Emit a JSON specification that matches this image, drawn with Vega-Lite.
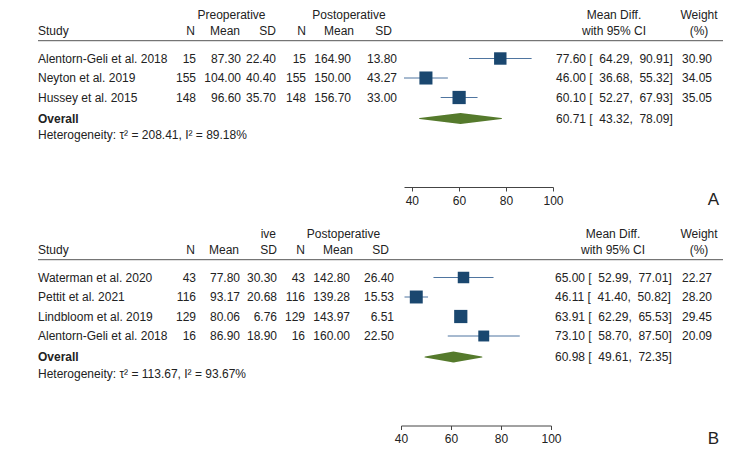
{
"$schema": "https://vega.github.io/schema/vega-lite/v6.json",
"background": "white",
"padding": {"left": 37, "top": 0, "right": 0, "bottom": 0},
"config": {"view": {"stroke": null}, "text": {"font": "Liberation Sans", "fontSize": 12, "color": "#222"}},
"datasets": {
"A": [
{"k":"Alentorn-Geli et al. 2018","n1":15,"m1":87.30,"sd1":22.40,"n2":15,"m2":164.90,"sd2":13.80,"md":77.60,"lo":64.29,"hi":90.91,"w":30.90,"ci":"77.60 [\u00a0 64.29,\u00a0 90.91]"},
{"k":"Neyton et al. 2019","n1":155,"m1":104.00,"sd1":40.40,"n2":155,"m2":150.00,"sd2":43.27,"md":46.00,"lo":36.68,"hi":55.32,"w":34.05,"ci":"46.00 [\u00a0 36.68,\u00a0 55.32]"},
{"k":"Hussey et al. 2015","n1":148,"m1":96.60,"sd1":35.70,"n2":148,"m2":156.70,"sd2":33.00,"md":60.10,"lo":52.27,"hi":67.93,"w":35.05,"ci":"60.10 [\u00a0 52.27,\u00a0 67.93]"}
],
"Aov": [{"k":"Overall","md":60.71,"lo":43.32,"hi":78.09,"ci":"60.71 [\u00a0 43.32,\u00a0 78.09]"}],
"B": [
{"k":"Waterman et al. 2020","n1":43,"m1":77.80,"sd1":30.30,"n2":43,"m2":142.80,"sd2":26.40,"md":65.00,"lo":52.99,"hi":77.01,"w":22.27,"ci":"65.00 [\u00a0 52.99,\u00a0 77.01]"},
{"k":"Pettit et al. 2021","n1":116,"m1":93.17,"sd1":20.68,"n2":116,"m2":139.28,"sd2":15.53,"md":46.11,"lo":41.40,"hi":50.82,"w":28.20,"ci":"46.11 [\u00a0 41.40,\u00a0 50.82]"},
{"k":"Lindbloom et al. 2019","n1":129,"m1":80.06,"sd1":6.76,"n2":129,"m2":143.97,"sd2":6.51,"md":63.91,"lo":62.29,"hi":65.53,"w":29.45,"ci":"63.91 [\u00a0 62.29,\u00a0 65.53]"},
{"k":"Alentorn-Geli et al. 2018","n1":16,"m1":86.90,"sd1":18.90,"n2":16,"m2":160.00,"sd2":22.50,"md":73.10,"lo":58.70,"hi":87.50,"w":20.09,"ci":"73.10 [\u00a0 58.70,\u00a0 87.50]"}
],
"Bov": [{"k":"Overall","md":60.98,"lo":49.61,"hi":72.35,"ci":"60.98 [\u00a0 49.61,\u00a0 72.35]"}]
},
"spacing": 11,
"bounds": "full",
"resolve": {"scale": {"x": "independent", "y": "independent", "size": "independent"}},
"vconcat": [
{
"spacing": 0, "bounds": "flush",
"resolve": {"scale": {"x": "independent", "y": "independent", "size": "independent"}},
"hconcat": [
{"width":128,"height":156,"encoding":{"y":{"field":"k","type":"nominal","axis":null,"scale":{"domain":["h1","h2","Alentorn-Geli et al. 2018","Neyton et al. 2019","Hussey et al. 2015","Overall","Het"],"padding":1,"round":false}}},
"layer":[
{"data":{"name":"A"},"mark":{"type":"text","align":"left","x":0},"encoding":{"text":{"field":"k"}}},
{"data":{"values":[{"k":"h2","t":"Study"}]},"mark":{"type":"text","align":"left","x":0,"dy":-8},"encoding":{"text":{"field":"t"}}},
{"data":{"values":[{"k":"Overall","t":"Overall"}]},"mark":{"type":"text","align":"left","x":0,"dy":2,"fontWeight":"bold"},"encoding":{"text":{"field":"t"}}},
{"data":{"values":[{"k":"Het","t":"Heterogeneity: τ² = 208.41, I² = 89.18%"}]},"mark":{"type":"text","align":"left","x":0,"dy":-1.5},"encoding":{"text":{"field":"t"}}},
{"data":{"values":[{"k":"h2"}]},"mark":{"type":"rule","yOffset":1.7,"color":"#555","strokeWidth":1},"encoding":{}}
]},
{"width":30,"height":156,"encoding":{"y":{"field":"k","type":"nominal","axis":null,"scale":{"domain":["h1","h2","Alentorn-Geli et al. 2018","Neyton et al. 2019","Hussey et al. 2015","Overall","Het"],"padding":1,"round":false}}},
"layer":[
{"data":{"name":"A"},"mark":{"type":"text","align":"right","x":"width"},"encoding":{"text":{"field":"n1","type":"quantitative","format":"d"}}},
{"data":{"values":[{"k":"h2","t":"N"}]},"mark":{"type":"text","align":"right","x":"width","dx":-1,"dy":-8},"encoding":{"text":{"field":"t"}}},
{"data":{"values":[{"k":"h2"}]},"mark":{"type":"rule","yOffset":1.7,"color":"#555","strokeWidth":1},"encoding":{}}
]},
{"width":45,"height":156,"encoding":{"y":{"field":"k","type":"nominal","axis":null,"scale":{"domain":["h1","h2","Alentorn-Geli et al. 2018","Neyton et al. 2019","Hussey et al. 2015","Overall","Het"],"padding":1,"round":false}}},
"layer":[
{"data":{"name":"A"},"mark":{"type":"text","align":"right","x":"width"},"encoding":{"text":{"field":"m1","type":"quantitative","format":".2f"}}},
{"data":{"values":[{"k":"h2","t":"Mean"}]},"mark":{"type":"text","align":"right","x":"width","dx":-1,"dy":-8},"encoding":{"text":{"field":"t"}}},
{"data":{"values":[{"k":"h1","t":"Preoperative"}]},"mark":{"type":"text","align":"center","x":"width","dx":-9.5,"dy":-4.5},"encoding":{"text":{"field":"t"}}},
{"data":{"values":[{"k":"h2"}]},"mark":{"type":"rule","yOffset":1.7,"color":"#555","strokeWidth":1},"encoding":{}}
]},
{"width":35,"height":156,"encoding":{"y":{"field":"k","type":"nominal","axis":null,"scale":{"domain":["h1","h2","Alentorn-Geli et al. 2018","Neyton et al. 2019","Hussey et al. 2015","Overall","Het"],"padding":1,"round":false}}},
"layer":[
{"data":{"name":"A"},"mark":{"type":"text","align":"right","x":"width"},"encoding":{"text":{"field":"sd1","type":"quantitative","format":".2f"}}},
{"data":{"values":[{"k":"h2","t":"SD"}]},"mark":{"type":"text","align":"right","x":"width","dy":-8},"encoding":{"text":{"field":"t"}}},
{"data":{"values":[{"k":"h2"}]},"mark":{"type":"rule","yOffset":1.7,"color":"#555","strokeWidth":1},"encoding":{}}
]},
{"width":30,"height":156,"encoding":{"y":{"field":"k","type":"nominal","axis":null,"scale":{"domain":["h1","h2","Alentorn-Geli et al. 2018","Neyton et al. 2019","Hussey et al. 2015","Overall","Het"],"padding":1,"round":false}}},
"layer":[
{"data":{"name":"A"},"mark":{"type":"text","align":"right","x":"width"},"encoding":{"text":{"field":"n2","type":"quantitative","format":"d"}}},
{"data":{"values":[{"k":"h2","t":"N"}]},"mark":{"type":"text","align":"right","x":"width","dy":-8},"encoding":{"text":{"field":"t"}}},
{"data":{"values":[{"k":"h2"}]},"mark":{"type":"rule","yOffset":1.7,"color":"#555","strokeWidth":1},"encoding":{}}
]},
{"width":45,"height":156,"encoding":{"y":{"field":"k","type":"nominal","axis":null,"scale":{"domain":["h1","h2","Alentorn-Geli et al. 2018","Neyton et al. 2019","Hussey et al. 2015","Overall","Het"],"padding":1,"round":false}}},
"layer":[
{"data":{"name":"A"},"mark":{"type":"text","align":"right","x":"width"},"encoding":{"text":{"field":"m2","type":"quantitative","format":".2f"}}},
{"data":{"values":[{"k":"h2","t":"Mean"}]},"mark":{"type":"text","align":"right","x":"width","dx":3,"dy":-8},"encoding":{"text":{"field":"t"}}},
{"data":{"values":[{"k":"h1","t":"Postoperative"}]},"mark":{"type":"text","align":"center","x":"width","dx":-2,"dy":-4.5},"encoding":{"text":{"field":"t"}}},
{"data":{"values":[{"k":"h2"}]},"mark":{"type":"rule","yOffset":1.7,"color":"#555","strokeWidth":1},"encoding":{}}
]},
{"width":53,"height":156,"encoding":{"y":{"field":"k","type":"nominal","axis":null,"scale":{"domain":["h1","h2","Alentorn-Geli et al. 2018","Neyton et al. 2019","Hussey et al. 2015","Overall","Het"],"padding":1,"round":false}}},
"layer":[
{"data":{"name":"A"},"mark":{"type":"text","align":"right","x":"width","dx":-7},"encoding":{"text":{"field":"sd2","type":"quantitative","format":".2f"}}},
{"data":{"values":[{"k":"h2","t":"SD"}]},"mark":{"type":"text","align":"right","x":"width","dx":-12,"dy":-8},"encoding":{"text":{"field":"t"}}},
{"data":{"values":[{"k":"h2"}]},"mark":{"type":"rule","yOffset":1.7,"color":"#555","strokeWidth":1},"encoding":{}}
]},
{"width":149,"height":156,"encoding":{"y":{"field":"k","type":"nominal","axis":null,"scale":{"domain":["h1","h2","Alentorn-Geli et al. 2018","Neyton et al. 2019","Hussey et al. 2015","Overall","Het"],"padding":1,"round":false}}},
"resolve":{"scale":{"size":"independent"}},
"layer":[
{"data":{"name":"A"},"mark":{"type":"rule","color":"#4f75a0","strokeWidth":1},"encoding":{"x":{"field":"lo","type":"quantitative","scale":{"domain":[36.68,100],"nice":false,"zero":false},"axis":{"values":[40,60,80,100],"offset":31,"title":null,"grid":false,"domainColor":"#444","tickColor":"#444","tickSize":4,"labelFontSize":12,"labelFont":"Liberation Sans","labelColor":"#222","labelPadding":4,"labelFlush":false,"labelOverlap":false}},"x2":{"field":"hi"}}},
{"data":{"name":"A"},"mark":{"type":"point","shape":"square","filled":true,"opacity":1,"color":"#1a476f"},"encoding":{"x":{"field":"md","type":"quantitative"},"size":{"field":"w","type":"quantitative","scale":{"domain":[0,35],"range":[0,175]},"legend":null}}},
{"data":{"name":"Aov"},"transform":[{"fold":["lo","md","hi"],"as":["part","v"]}],"mark":{"type":"trail","color":"#557a2c","yOffset":1.5},"encoding":{"x":{"field":"v","type":"quantitative"},"size":{"field":"part","type":"ordinal","scale":{"type":"ordinal","domain":["lo","md","hi"],"range":[0,11,0]},"legend":null}}},
{"data":{"values":[{"k":"h2"}]},"mark":{"type":"rule","yOffset":1.7,"color":"#555","strokeWidth":1},"encoding":{}}
]},
{"width":122,"height":156,"encoding":{"y":{"field":"k","type":"nominal","axis":null,"scale":{"domain":["h1","h2","Alentorn-Geli et al. 2018","Neyton et al. 2019","Hussey et al. 2015","Overall","Het"],"padding":1,"round":false}}},
"layer":[
{"data":{"name":"A"},"mark":{"type":"text","align":"left","x":0,"dx":3},"encoding":{"text":{"field":"ci"}}},
{"data":{"name":"Aov"},"mark":{"type":"text","align":"left","x":0,"dx":3,"dy":2},"encoding":{"text":{"field":"ci"}}},
{"data":{"values":[{"k":"h1","t":"Mean Diff."}]},"mark":{"type":"text","align":"center","x":"width","dx":-61,"dy":-4.5},"encoding":{"text":{"field":"t"}}},
{"data":{"values":[{"k":"h2","t":"with 95% CI"}]},"mark":{"type":"text","align":"center","x":"width","dx":-61,"dy":-8},"encoding":{"text":{"field":"t"}}},
{"data":{"values":[{"k":"h2"}]},"mark":{"type":"rule","yOffset":1.7,"color":"#555","strokeWidth":1},"encoding":{}}
]},
{"width":48,"height":156,"encoding":{"y":{"field":"k","type":"nominal","axis":null,"scale":{"domain":["h1","h2","Alentorn-Geli et al. 2018","Neyton et al. 2019","Hussey et al. 2015","Overall","Het"],"padding":1,"round":false}}},
"layer":[
{"data":{"name":"A"},"mark":{"type":"text","align":"right","x":"width","dx":-11},"encoding":{"text":{"field":"w","type":"quantitative","format":".2f"}}},
{"data":{"values":[{"k":"h1","t":"Weight"}]},"mark":{"type":"text","align":"center","x":"width","dx":-24,"dy":-4.5},"encoding":{"text":{"field":"t"}}},
{"data":{"values":[{"k":"h2","t":"(%)"}]},"mark":{"type":"text","align":"center","x":"width","dx":-24,"dy":-8},"encoding":{"text":{"field":"t"}}},
{"data":{"values":[{"k":"h2"}]},"mark":{"type":"rule","yOffset":1.7,"color":"#555","strokeWidth":1},"encoding":{}},
{"data":{"values":[{"k":"lab"}]},"mark":{"type":"text","align":"right","x":"width","dx":-4,"dy":44,"fontSize":17,"text":"A"},"encoding":{"y":{"value":"height"}}}
]}
]
},
{
"spacing": 0, "bounds": "flush",
"resolve": {"scale": {"x": "independent", "y": "independent", "size": "independent"}},
"hconcat": [
{"width":128,"height":175.5,"encoding":{"y":{"field":"k","type":"nominal","axis":null,"scale":{"domain":["h1","h2","Waterman et al. 2020","Pettit et al. 2021","Lindbloom et al. 2019","Alentorn-Geli et al. 2018","Overall","Het"],"padding":1,"round":false}}},
"layer":[
{"data":{"name":"B"},"mark":{"type":"text","align":"left","x":0},"encoding":{"text":{"field":"k"}}},
{"data":{"values":[{"k":"h2","t":"Study"}]},"mark":{"type":"text","align":"left","x":0,"dy":-8.5},"encoding":{"text":{"field":"t"}}},
{"data":{"values":[{"k":"Overall","t":"Overall"}]},"mark":{"type":"text","align":"left","x":0,"dy":1.5,"fontWeight":"bold"},"encoding":{"text":{"field":"t"}}},
{"data":{"values":[{"k":"Het","t":"Heterogeneity: τ² = 113.67, I² = 93.67%"}]},"mark":{"type":"text","align":"left","x":0,"dy":-1},"encoding":{"text":{"field":"t"}}},
{"data":{"values":[{"k":"h2"}]},"mark":{"type":"rule","yOffset":1.7,"color":"#555","strokeWidth":1},"encoding":{}}
]},
{"width":30,"height":175.5,"encoding":{"y":{"field":"k","type":"nominal","axis":null,"scale":{"domain":["h1","h2","Waterman et al. 2020","Pettit et al. 2021","Lindbloom et al. 2019","Alentorn-Geli et al. 2018","Overall","Het"],"padding":1,"round":false}}},
"layer":[
{"data":{"name":"B"},"mark":{"type":"text","align":"right","x":"width"},"encoding":{"text":{"field":"n1","type":"quantitative","format":"d"}}},
{"data":{"values":[{"k":"h2","t":"N"}]},"mark":{"type":"text","align":"right","x":"width","dx":-1,"dy":-8.5},"encoding":{"text":{"field":"t"}}},
{"data":{"values":[{"k":"h2"}]},"mark":{"type":"rule","yOffset":1.7,"color":"#555","strokeWidth":1},"encoding":{}}
]},
{"width":44,"height":175.5,"encoding":{"y":{"field":"k","type":"nominal","axis":null,"scale":{"domain":["h1","h2","Waterman et al. 2020","Pettit et al. 2021","Lindbloom et al. 2019","Alentorn-Geli et al. 2018","Overall","Het"],"padding":1,"round":false}}},
"layer":[
{"data":{"name":"B"},"mark":{"type":"text","align":"right","x":"width"},"encoding":{"text":{"field":"m1","type":"quantitative","format":".2f"}}},
{"data":{"values":[{"k":"h2","t":"Mean"}]},"mark":{"type":"text","align":"right","x":"width","dx":-1,"dy":-8.5},"encoding":{"text":{"field":"t"}}},
{"data":{"values":[{"k":"h2"}]},"mark":{"type":"rule","yOffset":1.7,"color":"#555","strokeWidth":1},"encoding":{}}
]},
{"width":37,"height":175.5,"encoding":{"y":{"field":"k","type":"nominal","axis":null,"scale":{"domain":["h1","h2","Waterman et al. 2020","Pettit et al. 2021","Lindbloom et al. 2019","Alentorn-Geli et al. 2018","Overall","Het"],"padding":1,"round":false}}},
"layer":[
{"data":{"name":"B"},"mark":{"type":"text","align":"right","x":"width"},"encoding":{"text":{"field":"sd1","type":"quantitative","format":".2f"}}},
{"data":{"values":[{"k":"h2","t":"SD"}]},"mark":{"type":"text","align":"right","x":"width","dy":-8.5},"encoding":{"text":{"field":"t"}}},
{"data":{"values":[{"k":"h1","t":"ive"}]},"mark":{"type":"text","align":"right","x":"width","dx":-1,"dy":-5},"encoding":{"text":{"field":"t"}}},
{"data":{"values":[{"k":"h2"}]},"mark":{"type":"rule","yOffset":1.7,"color":"#555","strokeWidth":1},"encoding":{}}
]},
{"width":28,"height":175.5,"encoding":{"y":{"field":"k","type":"nominal","axis":null,"scale":{"domain":["h1","h2","Waterman et al. 2020","Pettit et al. 2021","Lindbloom et al. 2019","Alentorn-Geli et al. 2018","Overall","Het"],"padding":1,"round":false}}},
"layer":[
{"data":{"name":"B"},"mark":{"type":"text","align":"right","x":"width"},"encoding":{"text":{"field":"n2","type":"quantitative","format":"d"}}},
{"data":{"values":[{"k":"h2","t":"N"}]},"mark":{"type":"text","align":"right","x":"width","dy":-8.5},"encoding":{"text":{"field":"t"}}},
{"data":{"values":[{"k":"h2"}]},"mark":{"type":"rule","yOffset":1.7,"color":"#555","strokeWidth":1},"encoding":{}}
]},
{"width":45,"height":175.5,"encoding":{"y":{"field":"k","type":"nominal","axis":null,"scale":{"domain":["h1","h2","Waterman et al. 2020","Pettit et al. 2021","Lindbloom et al. 2019","Alentorn-Geli et al. 2018","Overall","Het"],"padding":1,"round":false}}},
"layer":[
{"data":{"name":"B"},"mark":{"type":"text","align":"right","x":"width"},"encoding":{"text":{"field":"m2","type":"quantitative","format":".2f"}}},
{"data":{"values":[{"k":"h2","t":"Mean"}]},"mark":{"type":"text","align":"right","x":"width","dx":3,"dy":-8.5},"encoding":{"text":{"field":"t"}}},
{"data":{"values":[{"k":"h1","t":"Postoperative"}]},"mark":{"type":"text","align":"center","x":"width","dx":-6.5,"dy":-5},"encoding":{"text":{"field":"t"}}},
{"data":{"values":[{"k":"h2"}]},"mark":{"type":"rule","yOffset":1.7,"color":"#555","strokeWidth":1},"encoding":{}}
]},
{"width":51,"height":175.5,"encoding":{"y":{"field":"k","type":"nominal","axis":null,"scale":{"domain":["h1","h2","Waterman et al. 2020","Pettit et al. 2021","Lindbloom et al. 2019","Alentorn-Geli et al. 2018","Overall","Het"],"padding":1,"round":false}}},
"layer":[
{"data":{"name":"B"},"mark":{"type":"text","align":"right","x":"width","dx":-7},"encoding":{"text":{"field":"sd2","type":"quantitative","format":".2f"}}},
{"data":{"values":[{"k":"h2","t":"SD"}]},"mark":{"type":"text","align":"right","x":"width","dx":-12,"dy":-8.5},"encoding":{"text":{"field":"t"}}},
{"data":{"values":[{"k":"h2"}]},"mark":{"type":"rule","yOffset":1.7,"color":"#555","strokeWidth":1},"encoding":{}}
]},
{"width":150,"height":175.5,"encoding":{"y":{"field":"k","type":"nominal","axis":null,"scale":{"domain":["h1","h2","Waterman et al. 2020","Pettit et al. 2021","Lindbloom et al. 2019","Alentorn-Geli et al. 2018","Overall","Het"],"padding":1,"round":false}}},
"resolve":{"scale":{"size":"independent"}},
"layer":[
{"data":{"name":"B"},"mark":{"type":"rule","color":"#4f75a0","strokeWidth":1},"encoding":{"x":{"field":"lo","type":"quantitative","scale":{"domain":[40,100],"nice":false,"zero":false},"axis":{"values":[40,60,80,100],"offset":31,"title":null,"grid":false,"domainColor":"#444","tickColor":"#444","tickSize":4,"labelFontSize":12,"labelFont":"Liberation Sans","labelColor":"#222","labelPadding":4,"labelFlush":false,"labelOverlap":false}},"x2":{"field":"hi"}}},
{"data":{"name":"B"},"mark":{"type":"point","shape":"square","filled":true,"opacity":1,"color":"#1a476f"},"encoding":{"x":{"field":"md","type":"quantitative"},"size":{"field":"w","type":"quantitative","scale":{"domain":[0,30],"range":[0,178]},"legend":null}}},
{"data":{"name":"Bov"},"transform":[{"fold":["lo","md","hi"],"as":["part","v"]}],"mark":{"type":"trail","color":"#557a2c","yOffset":1.5},"encoding":{"x":{"field":"v","type":"quantitative"},"size":{"field":"part","type":"ordinal","scale":{"type":"ordinal","domain":["lo","md","hi"],"range":[0,11,0]},"legend":null}}},
{"data":{"values":[{"k":"h2"}]},"mark":{"type":"rule","yOffset":1.7,"color":"#555","strokeWidth":1},"encoding":{}}
]},
{"width":124,"height":175.5,"encoding":{"y":{"field":"k","type":"nominal","axis":null,"scale":{"domain":["h1","h2","Waterman et al. 2020","Pettit et al. 2021","Lindbloom et al. 2019","Alentorn-Geli et al. 2018","Overall","Het"],"padding":1,"round":false}}},
"layer":[
{"data":{"name":"B"},"mark":{"type":"text","align":"left","x":0,"dx":4},"encoding":{"text":{"field":"ci"}}},
{"data":{"name":"Bov"},"mark":{"type":"text","align":"left","x":0,"dx":4,"dy":1.5},"encoding":{"text":{"field":"ci"}}},
{"data":{"values":[{"k":"h1","t":"Mean Diff."}]},"mark":{"type":"text","align":"center","x":"width","dx":-62,"dy":-5},"encoding":{"text":{"field":"t"}}},
{"data":{"values":[{"k":"h2","t":"with 95% CI"}]},"mark":{"type":"text","align":"center","x":"width","dx":-62,"dy":-8.5},"encoding":{"text":{"field":"t"}}},
{"data":{"values":[{"k":"h2"}]},"mark":{"type":"rule","yOffset":1.7,"color":"#555","strokeWidth":1},"encoding":{}}
]},
{"width":48,"height":175.5,"encoding":{"y":{"field":"k","type":"nominal","axis":null,"scale":{"domain":["h1","h2","Waterman et al. 2020","Pettit et al. 2021","Lindbloom et al. 2019","Alentorn-Geli et al. 2018","Overall","Het"],"padding":1,"round":false}}},
"layer":[
{"data":{"name":"B"},"mark":{"type":"text","align":"right","x":"width","dx":-11},"encoding":{"text":{"field":"w","type":"quantitative","format":".2f"}}},
{"data":{"values":[{"k":"h1","t":"Weight"}]},"mark":{"type":"text","align":"center","x":"width","dx":-24,"dy":-5},"encoding":{"text":{"field":"t"}}},
{"data":{"values":[{"k":"h2","t":"(%)"}]},"mark":{"type":"text","align":"center","x":"width","dx":-24,"dy":-8.5},"encoding":{"text":{"field":"t"}}},
{"data":{"values":[{"k":"h2"}]},"mark":{"type":"rule","yOffset":1.7,"color":"#555","strokeWidth":1},"encoding":{}},
{"data":{"values":[{"k":"lab"}]},"mark":{"type":"text","align":"right","x":"width","dx":-4,"dy":44,"fontSize":17,"text":"B"},"encoding":{"y":{"value":"height"}}}
]}
]
}
]
}
